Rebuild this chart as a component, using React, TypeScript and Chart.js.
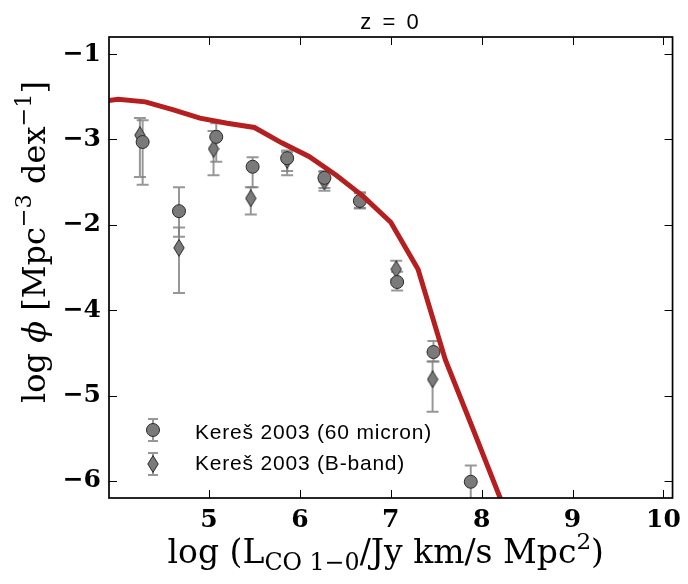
import React, { useEffect, useRef } from "react";
import { Chart, registerables } from "chart.js";

Chart.register(...registerables);

// ---- data ----
const modelLogL = [3.7, 4.0, 4.3, 4.6, 4.9, 5.2, 5.5, 5.8, 6.1, 6.4, 6.7, 7.0, 7.3, 7.6, 7.9, 8.2, 8.5];
const modelLogPhi = [-1.57, -1.53, -1.56, -1.65, -1.75, -1.81, -1.86, -2.04, -2.2, -2.42, -2.67, -2.97, -3.52, -4.58, -5.38, -6.19, -7.0];

const micronLogL = [4.27, 4.67, 5.08, 5.48, 5.86, 6.27, 6.66, 7.07, 7.47, 7.88];
const micronLogPhi = [-2.03, -2.84, -1.97, -2.32, -2.22, -2.45, -2.72, -3.67, -4.49, -6.01];
const micronUpper = [-1.775, -2.56, -1.81, -2.21, -2.13, -2.37, -2.62, -3.55, -4.36, -5.82];
const micronLower = [-2.53, -3.14, -2.26, -2.56, -2.37, -2.57, -2.81, -3.77, -4.6, -6.5];

const bandLogL = [4.24, 4.67, 5.05, 5.46, 5.86, 6.27, 6.66, 7.06, 7.46];
const bandLogPhi = [-1.95, -3.27, -2.11, -2.69, -2.24, -2.49, -2.71, -3.52, -4.81];
const bandUpper = [-1.75, -3.03, -1.9, -2.56, -2.15, -2.38, -2.63, -3.42, -4.6];
const bandLower = [-2.44, -3.8, -2.42, -2.88, -2.42, -2.6, -2.8, -3.64, -5.19];

const xTickValues = [5, 6, 7, 8, 9, 10];
const yTickValues = [-1, -2, -3, -4, -5, -6];
const yTickLabels = ["\u22121", "\u22123", "\u22122", "\u22124", "\u22125", "\u22126"];

const titleText = "z = 0";
const legendLabels = ["Kere\u0161 2003 (60 micron)", "Kere\u0161 2003 (B-band)"];

// ---- styles ----
const RED = "#b51f1f";
const MARKER_FILL = "#7a7a7a";
const MARKER_EDGE = "#2a2a2a";
const ERR_COLOR = "rgba(125,125,125,0.8)";
const SERIF = "'DejaVu Serif'";
const SANS = "'Liberation Sans', Arial, sans-serif";

type Seg = { t: string; s: number; dy: number; it?: boolean };

function drawRich(ctx: CanvasRenderingContext2D, segs: Seg[], cx: number, by: number) {
  let total = 0;
  const ws: number[] = [];
  for (const g of segs) {
    ctx.font = `${g.it ? "italic " : ""}${g.s}px ${SERIF}`;
    const w = ctx.measureText(g.t).width;
    ws.push(w);
    total += w;
  }
  let x = cx - total / 2;
  ctx.textAlign = "left";
  ctx.textBaseline = "alphabetic";
  segs.forEach((g, i) => {
    ctx.font = `${g.it ? "italic " : ""}${g.s}px ${SERIF}`;
    ctx.fillText(g.t, x, by + g.dy);
    x += ws[i];
  });
}

function makeDiamond(): HTMLCanvasElement {
  const c = document.createElement("canvas");
  c.width = 12;
  c.height = 18;
  const g = c.getContext("2d")!;
  g.beginPath();
  g.moveTo(6, 0.6);
  g.lineTo(11.2, 9);
  g.lineTo(6, 17.4);
  g.lineTo(0.8, 9);
  g.closePath();
  g.fillStyle = MARKER_FILL;
  g.fill();
  g.strokeStyle = MARKER_EDGE;
  g.lineWidth = 1;
  g.stroke();
  return c;
}

export default function App() {
  const ref = useRef<HTMLCanvasElement | null>(null);

  useEffect(() => {
    document.body.style.margin = "0";
    const canvas = ref.current!;
    const diamond = makeDiamond();

    const errorBars = {
      id: "errorBars",
      beforeDatasetsDraw(chart: any) {
        const { ctx, chartArea: a, scales } = chart;
        const xs = scales.x, ys = scales.y;
        ctx.save();
        ctx.beginPath();
        ctx.rect(a.left, a.top, a.right - a.left, a.bottom - a.top);
        ctx.clip();
        ctx.strokeStyle = ERR_COLOR;
        ctx.lineWidth = 2;
        const draw = (X: number[], hi: number[], lo: number[]) => {
          for (let i = 0; i < X.length; i++) {
            const px = xs.getPixelForValue(X[i]);
            const p1 = ys.getPixelForValue(hi[i]);
            const p2 = ys.getPixelForValue(lo[i]);
            ctx.beginPath();
            ctx.moveTo(px, p1);
            ctx.lineTo(px, p2);
            ctx.moveTo(px - 6, p1);
            ctx.lineTo(px + 6, p1);
            ctx.moveTo(px - 6, p2);
            ctx.lineTo(px + 6, p2);
            ctx.stroke();
          }
        };
        draw(bandLogL, bandUpper, bandLower);
        draw(micronLogL, micronUpper, micronLower);
        ctx.restore();
      },
    };

    const decorations = {
      id: "decorations",
      afterDraw(chart: any) {
        const { ctx, chartArea: a, scales } = chart;
        ctx.save();
        // inward ticks on all sides
        ctx.strokeStyle = "#000";
        ctx.lineWidth = 1;
        ctx.beginPath();
        for (const t of scales.x.ticks) {
          const px = Math.round(scales.x.getPixelForValue(t.value)) + 0.5;
          ctx.moveTo(px, a.bottom);
          ctx.lineTo(px, a.bottom - 8);
          ctx.moveTo(px, a.top);
          ctx.lineTo(px, a.top + 8);
        }
        for (const t of scales.y.ticks) {
          const py = Math.round(scales.y.getPixelForValue(t.value)) + 0.5;
          ctx.moveTo(a.left, py);
          ctx.lineTo(a.left + 8, py);
          ctx.moveTo(a.right, py);
          ctx.lineTo(a.right - 8, py);
        }
        ctx.stroke();
        // frame
        ctx.lineWidth = 1.7;
        ctx.strokeRect(a.left, a.top, a.right - a.left, a.bottom - a.top);

        ctx.fillStyle = "#000";
        // title
        ctx.font = `22px ${SANS}`;
        ctx.textAlign = "center";
        ctx.textBaseline = "alphabetic";
        (ctx as any).letterSpacing = "2.5px";
        ctx.fillText(titleText, (a.left + a.right) / 2, 29);
        (ctx as any).letterSpacing = "0px";

        // x axis title
        const SX = 33;
        drawRich(
          ctx,
          [
            { t: "log (L", s: SX, dy: 0 },
            { t: "CO 1\u22120", s: SX * 0.72, dy: SX * 0.2 },
            { t: "/Jy km/s Mpc", s: SX, dy: 0 },
            { t: "2", s: SX * 0.7, dy: -SX * 0.42 },
            { t: ")", s: SX, dy: 0 },
          ],
          (a.left + a.right) / 2 - 5,
          563
        );

        // y axis title
        const S = 32;
        ctx.save();
        ctx.translate(45, 242);
        ctx.rotate(-Math.PI / 2);
        drawRich(
          ctx,
          [
            { t: "log ", s: S, dy: 0 },
            { t: "\u03d5", s: S, dy: 0, it: true },
            { t: " [Mpc", s: S, dy: 0 },
            { t: "\u22123", s: S * 0.7, dy: -S * 0.45 },
            { t: " dex", s: S, dy: 0 },
            { t: "\u22121", s: S * 0.7, dy: -S * 0.45 },
            { t: "]", s: S, dy: 0 },
          ],
          0,
          0
        );
        ctx.restore();

        // legend
        const lx = 153;
        const rows = [430, 464];
        ctx.strokeStyle = ERR_COLOR;
        ctx.lineWidth = 2;
        rows.forEach((ry) => {
          ctx.beginPath();
          ctx.moveTo(lx, ry - 11);
          ctx.lineTo(lx, ry + 11);
          ctx.moveTo(lx - 5, ry - 11);
          ctx.lineTo(lx + 5, ry - 11);
          ctx.moveTo(lx - 5, ry + 11);
          ctx.lineTo(lx + 5, ry + 11);
          ctx.stroke();
        });
        ctx.beginPath();
        ctx.arc(lx, rows[0], 6.5, 0, Math.PI * 2);
        ctx.fillStyle = MARKER_FILL;
        ctx.fill();
        ctx.strokeStyle = MARKER_EDGE;
        ctx.lineWidth = 1;
        ctx.stroke();
        ctx.drawImage(diamond, lx - diamond.width / 2, rows[1] - diamond.height / 2);

        ctx.fillStyle = "#000";
        ctx.font = `21px ${SANS}`;
        ctx.textAlign = "left";
        ctx.textBaseline = "alphabetic";
        (ctx as any).letterSpacing = "0.8px";
        ctx.fillText(legendLabels[0], 195, 439);
        ctx.fillText(legendLabels[1], 195, 470);
        (ctx as any).letterSpacing = "0px";
        ctx.restore();
      },
    };

    const chart = new Chart(canvas, {
      type: "scatter",
      data: {
        datasets: [
          {
            type: "line",
            label: "model",
            data: modelLogL.map((x, i) => ({ x, y: modelLogPhi[i] })),
            borderColor: RED,
            borderWidth: 5,
            pointRadius: 0,
            fill: false,
            tension: 0,
          } as any,
          {
            label: legendLabels[0],
            data: micronLogL.map((x, i) => ({ x, y: micronLogPhi[i] })),
            pointStyle: "circle",
            pointRadius: 6.5,
            backgroundColor: MARKER_FILL,
            borderColor: MARKER_EDGE,
            borderWidth: 1,
          },
          {
            label: legendLabels[1],
            data: bandLogL.map((x, i) => ({ x, y: bandLogPhi[i] })),
            pointStyle: diamond as any,
            pointRadius: 8,
            backgroundColor: MARKER_FILL,
            borderColor: MARKER_EDGE,
          },
        ],
      },
      plugins: [errorBars, decorations],
      options: {
        animation: false,
        responsive: true,
        maintainAspectRatio: false,
        devicePixelRatio: 1,
        events: [],
        layout: { padding: { top: 37, right: 9, left: 0, bottom: 0 } },
        plugins: { legend: { display: false }, tooltip: { enabled: false }, title: { display: false } },
        scales: {
          x: {
            type: "linear",
            min: 3.9,
            max: 10.1,
            grid: { display: false, drawTicks: false },
            border: { display: false },
            afterBuildTicks: (scale: any) => {
              scale.ticks = xTickValues.map((v) => ({ value: v }));
            },
            afterFit: (scale: any) => {
              scale.height = 86;
            },
            ticks: {
              color: "#000",
              padding: 7,
              maxRotation: 0,
              font: { family: SERIF, size: 25, weight: "bold" },
              callback: (v: any) => String(v),
            },
          },
          y: {
            type: "linear",
            min: -6.2,
            max: -0.8,
            grid: { display: false, drawTicks: false },
            border: { display: false },
            afterBuildTicks: (scale: any) => {
              scale.ticks = yTickValues.map((v) => ({ value: v }));
            },
            afterFit: (scale: any) => {
              scale.width = 109;
            },
            ticks: {
              color: "#000",
              padding: 8,
              font: { family: SERIF, size: 25, weight: "bold" },
              callback: (v: any) => {
                const i = yTickValues.indexOf(Number(v));
                return i >= 0 ? yTickLabels[i] : "";
              },
            },
          },
        },
      },
    });
    return () => chart.destroy();
  }, []);

  return (
    <div style={{ position: "relative", width: 688, height: 584 }}>
      <canvas ref={ref} />
    </div>
  );
}
